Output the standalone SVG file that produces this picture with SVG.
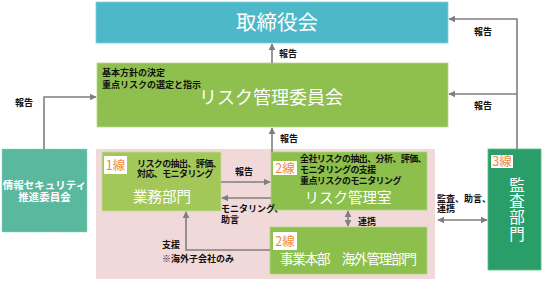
<svg xmlns="http://www.w3.org/2000/svg" width="544" height="281" viewBox="0 0 544 281">
<defs>
<marker id="ah" viewBox="0 0 10 10" refX="9" refY="5" markerWidth="4.5" markerHeight="4.5" orient="auto-start-reverse">
<path d="M0,0 L10,5 L0,10 Z" fill="#7f7f7f"/>
</marker>
</defs>
<style>
text{font-family:"Noto Sans CJK JP","Noto Sans",sans-serif}
.lbl{font-size:9px;font-weight:bold;fill:#111}
.ttl{fill:#fff}
.num{font-size:12.5px;fill:#f0883a;text-anchor:middle}
.conn{fill:none;stroke:#7f7f7f;stroke-width:1.6}
.badge{fill:#fff}
</style>
<rect x="96" y="149" width="339" height="130" fill="#f1d9d9"/>
<g id="torishimariyakukai">
<rect x="96" y="2" width="352" height="41" fill="#4db8c7" stroke="#7fcfd9" stroke-width="0.8"/>
<text class="ttl" x="277" y="30" font-size="20.5" text-anchor="middle">取締役会</text>
</g>
<g id="risk-iinkai">
<rect x="97" y="63" width="351" height="64" fill="#8fc04f" stroke="#b7d88c" stroke-width="0.8"/>
<text class="lbl"><tspan x="102" y="76">基本方針の決定</tspan><tspan x="102" y="88">重点リスクの選定と指示</tspan></text>
<text class="ttl" x="271" y="104" font-size="18" text-anchor="middle">リスク管理委員会</text>
</g>
<g id="security-iinkai">
<rect x="2" y="149" width="85" height="83" fill="#5ab89e" stroke="#8fd3bf" stroke-width="0.8" stroke-dasharray="1.5 1"/>
<text class="ttl" font-size="10.5" font-weight="bold" text-anchor="middle"><tspan x="44.5" y="189">情報セキュリティ</tspan><tspan x="44.5" y="201">推進委員会</tspan></text>
</g>
<g id="gyomu-bumon">
<rect x="102" y="152" width="119" height="59" fill="#a4c75a" stroke="#c6de98" stroke-width="0.8"/>
<rect class="badge" x="104" y="156" width="23" height="18"/>
<text class="num" x="115.5" y="170">1線</text>
<text class="lbl" letter-spacing="-0.6"><tspan x="137" y="167">リスクの抽出、評価、</tspan><tspan x="137" y="177">対応、モニタリング</tspan></text>
<text class="ttl" x="162" y="202" font-size="14.5" text-anchor="middle">業務部門</text>
</g>
<g id="risk-kanrishitsu">
<rect x="271" y="152" width="156" height="58" fill="#8cbf4c" stroke="#b4d689" stroke-width="0.8"/>
<rect class="badge" x="273" y="161" width="24" height="14"/>
<text class="num" x="285" y="173">2線</text>
<text class="lbl" letter-spacing="-0.6"><tspan x="300" y="162">全社リスクの抽出、分析、評価、</tspan><tspan x="300" y="173">モニタリングの支援</tspan><tspan x="300" y="184">重点リスクのモニタリング</tspan></text>
<text class="ttl" x="348" y="203" font-size="14.5" text-anchor="middle">リスク管理室</text>
</g>
<g id="jigyo-honbu">
<rect x="270" y="227" width="157" height="47" fill="#8cbf4c" stroke="#b4d689" stroke-width="0.8"/>
<rect class="badge" x="273" y="232" width="24" height="18"/>
<text class="num" x="285" y="246">2線</text>
<text class="ttl" x="348.5" y="264" font-size="13.5" text-anchor="middle" textLength="137">事業本部　海外管理部門</text>
</g>
<g id="kansa-bumon">
<rect x="488" y="149" width="53" height="121" fill="#2a9e68" stroke="#5dbb8e" stroke-width="0.8"/>
<rect class="badge" x="491" y="155" width="22" height="13"/>
<text class="num" x="502" y="166" font-size="11.5">3線</text>
<text class="ttl" x="517" y="177" font-size="15.5" letter-spacing="0.8" style="writing-mode:vertical-rl">監査部門</text>
</g>
<g id="connectors">
<path class="conn" d="M272,63 L272,44" marker-end="url(#ah)"/>
<path class="conn" d="M272,152 L272,128" marker-end="url(#ah)"/>
<path class="conn" d="M44,149 L44,97 L96,97" marker-end="url(#ah)"/>
<path class="conn" d="M517,149 L517,19 L449,19" marker-end="url(#ah)"/>
<path class="conn" d="M517,94 L449,94" marker-end="url(#ah)"/>
<path class="conn" d="M221,182 L270,182" marker-end="url(#ah)"/>
<path class="conn" d="M271,198 L222,198" marker-end="url(#ah)"/>
<path class="conn" d="M270,250 L186,250 L186,212" marker-end="url(#ah)"/>
<path class="conn" d="M348,211 L348,226" marker-start="url(#ah)" marker-end="url(#ah)"/>
<path class="conn" d="M438,220 L487,220" marker-start="url(#ah)" marker-end="url(#ah)"/>
<text class="lbl" x="279" y="57">報告</text>
<text class="lbl" x="280" y="142">報告</text>
<text class="lbl" x="15" y="106">報告</text>
<text class="lbl" x="474" y="35">報告</text>
<text class="lbl" x="474" y="109">報告</text>
<text class="lbl" x="235" y="175">報告</text>
<text class="lbl"><tspan x="221" y="212">モニタリング、</tspan><tspan x="221" y="223">助言</tspan></text>
<text class="lbl" x="358" y="225">連携</text>
<text class="lbl"><tspan x="162" y="248">支援</tspan><tspan x="162" y="262">※海外子会社のみ</tspan></text>
<text class="lbl"><tspan x="437" y="202">監査、助言、</tspan><tspan x="437" y="212">連携</tspan></text>
</g>
</svg>
